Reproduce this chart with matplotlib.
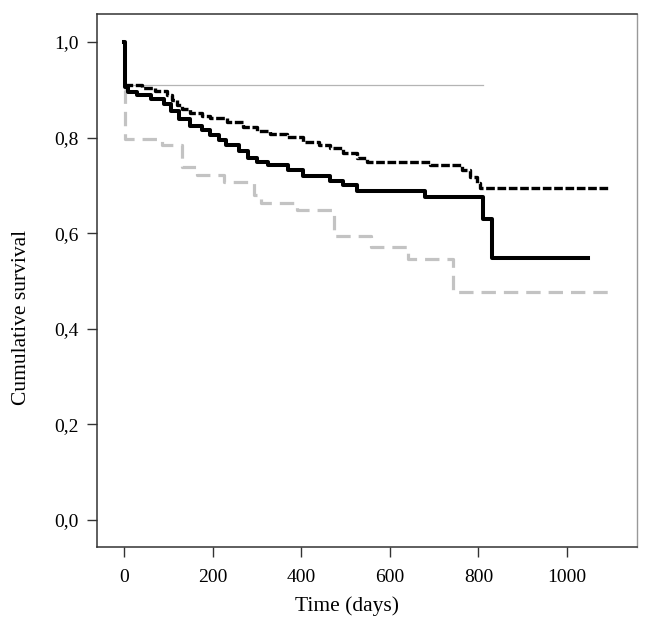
import matplotlib
matplotlib.use("Agg")
import matplotlib.pyplot as plt

# Kaplan-Meier steps (time in days, cumulative survival)
solid_t = [0, 2, 10, 30, 60, 90, 105, 125, 150, 175, 195, 215, 230, 260, 280, 300,
           325, 370, 405, 465, 495, 525, 680, 810, 830, 1047]
solid_s = [1.0, 0.905, 0.895, 0.888, 0.880, 0.870, 0.855, 0.838, 0.825, 0.815, 0.805,
           0.795, 0.785, 0.772, 0.757, 0.748, 0.742, 0.732, 0.720, 0.710, 0.700, 0.688,
           0.676, 0.630, 0.549, 0.549]

dotted_t = [0, 40, 70, 97, 108, 120, 130, 149, 175, 194, 232, 269, 300, 330, 368, 404,
            440, 465, 494, 526, 548, 691, 763, 781, 797, 804, 1097]
dotted_s = [0.910, 0.904, 0.897, 0.889, 0.879, 0.868, 0.860, 0.851, 0.846, 0.841, 0.833,
            0.821, 0.813, 0.808, 0.801, 0.791, 0.785, 0.778, 0.768, 0.757, 0.749, 0.742,
            0.733, 0.718, 0.705, 0.695, 0.695]

gray_t = [0, 2, 86, 130, 165, 225, 293, 310, 390, 474, 558, 640, 743, 1097]
gray_s = [0.900, 0.796, 0.785, 0.738, 0.722, 0.707, 0.680, 0.664, 0.648, 0.595, 0.570,
          0.545, 0.476, 0.476]

ref_t = [0, 810]
ref_s = [0.91, 0.91]

yticks = [0.0, 0.2, 0.4, 0.6, 0.8, 1.0]
ytick_labels = ["0,0", "0,2", "0,4", "0,6", "0,8", "1,0"]
xticks = [0, 200, 400, 600, 800, 1000]

plt.rcParams['font.family'] = ['Liberation Serif', 'DejaVu Serif']

fig = plt.figure(figsize=(6.52, 6.32), dpi=100)
ax = fig.add_axes([0.1488, 0.1345, 0.8282, 0.8435])

ax.plot(ref_t, ref_s, color='#b4b4b4', linewidth=0.9, zorder=1)
ax.step(gray_t, gray_s, where='post', color='#c3c3c3', linewidth=2.3,
        dashes=(4.5, 2.5), zorder=2)
ax.step(dotted_t, dotted_s, where='post', color='black', linewidth=2.4,
        dashes=(2.6, 0.8), zorder=3)
ax.step(solid_t, solid_s, where='post', color='black', linewidth=2.9, zorder=4)

ax.set_xlim(-61, 1158)
ax.set_ylim(-0.0565, 1.0586)
ax.set_xticks(xticks)
ax.set_yticks(yticks)
ax.set_yticklabels(ytick_labels)
ax.tick_params(axis='both', direction='out', length=7, width=1, labelsize=14,
               color='#333333')
ax.tick_params(axis='x', pad=9)
ax.tick_params(axis='y', pad=6)

for side in ['left', 'bottom', 'top']:
    ax.spines[side].set_color('#333333')
    ax.spines[side].set_linewidth(1.1)
ax.spines['right'].set_color('#999999')
ax.spines['right'].set_linewidth(1.0)

ax.set_xlabel("Time (days)", fontsize=15.5, va='center')
ax.set_ylabel("Cumulative survival", fontsize=15.5, va='center')
ax.xaxis.set_label_coords(0.463, -0.111)
ax.yaxis.set_label_coords(-0.139, 0.43)

fig.savefig("out.png", dpi=100)
